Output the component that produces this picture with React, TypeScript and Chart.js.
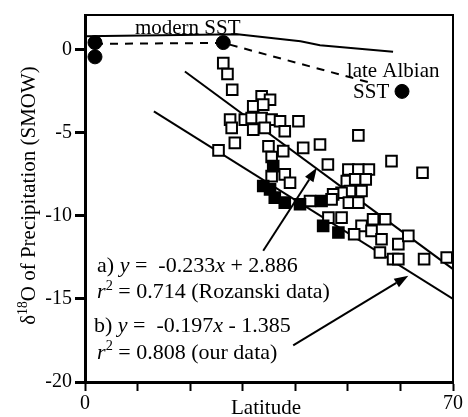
import { useEffect, useRef } from "react";
import { Chart, registerables } from "chart.js";

Chart.register(...registerables);

const FONT = '"Liberation Serif", "Times New Roman", serif';

// Rozanski data (open squares)
const rozanskiLat = [
  26.3, 27.1, 28.0, 33.6, 35.2, 32.0, 33.9, 27.6, 27.9, 30.4, 31.7, 33.6, 35.5, 37.1, 38.0, 40.6, 32.0, 34.2,
  28.5, 25.4, 34.9, 37.7, 41.5, 44.7, 35.5, 46.2, 52.0, 58.3, 64.2, 35.5, 38.0, 39.0, 42.8,
  50.1, 52.0, 54.0, 49.8, 51.4, 53.4, 52.6, 50.4, 48.8, 47.2, 46.9, 50.2, 52.0,
  48.8, 46.3, 54.8, 57.1, 52.6, 54.5, 51.2, 56.4, 59.6, 61.5, 56.1, 58.6, 59.6, 64.5, 68.8,
];
const rozanskiO18 = [
  -0.8, -1.45, -2.4, -2.8, -3.0, -3.4, -3.3, -4.2, -4.7, -4.2, -4.1, -4.1, -4.2, -4.3, -4.9, -4.3, -4.8, -4.7,
  -5.6, -6.05, -5.8, -6.1, -5.9, -5.7, -6.45, -6.9, -5.15, -6.7, -7.4, -7.6, -7.5, -8.0, -9.1,
  -7.2, -7.2, -7.2, -7.9, -7.8, -7.8, -8.5, -8.5, -8.6, -8.7, -9.0, -9.2, -9.2,
  -10.1, -10.1, -10.2, -10.2, -10.6, -10.9, -11.1, -11.4, -11.7, -11.2, -12.2, -12.6, -12.6, -12.6, -12.5,
];

// our data (filled squares)
const ourLat = [35.8, 33.9, 35.2, 36.1, 38.0, 40.9, 45.0, 45.3, 48.2];
const ourO18 = [-7.0, -8.2, -8.4, -8.9, -9.2, -9.3, -9.1, -10.6, -11.0];

// SST points (filled circles)
const sstLat = [1.9, 1.9, 26.3, 60.3];
const sstO18 = [0.44, -0.42, 0.44, -2.5];

const modernLat = [0, 29, 41, 44.7, 58.6];
const modernO18 = [0.82, 0.94, 0.52, 0.28, -0.12];

const albianLat = [1.9, 26.3, 54.5];
const albianO18 = [0.36, 0.42, -2.0];

// regression lines a) and b)
const fitALat = [19, 70];
const fitAO18 = [-1.3, -13.2];
const fitBLat = [13.1, 70];
const fitBO18 = [-3.7, -15.0];

// arrows: [tailLat, tailO18, headLat, headO18]
const arrowA = [33.9, -12.1, 44.1, -7.1];
const arrowB = [39.6, -17.8, 61.5, -13.6];

const xTicks = [0, 10, 20, 30, 40, 50, 60, 70];
const xTickLabels = ["0", "", "", "", "", "", "", "70"];
const yTicks = [-20, -15, -10, -5, 0];
const yTickLabels = ["-20", "-15", "-10", "-5", "0"];

const pts = (xs: number[], ys: number[]) => xs.map((x, i) => ({ x, y: ys[i] }));

type Run = { t: string; italic?: boolean; sup?: boolean };

function runsWidth(ctx: CanvasRenderingContext2D, runs: Run[], size: number) {
  let w = 0;
  for (const r of runs) {
    const fs = r.sup ? size * 0.65 : size;
    ctx.font = `${r.italic ? "italic " : ""}${fs}px ${FONT}`;
    w += ctx.measureText(r.t).width;
  }
  return w;
}

function drawRuns(ctx: CanvasRenderingContext2D, runs: Run[], x: number, y: number, size: number) {
  let cx = x;
  for (const r of runs) {
    const fs = r.sup ? size * 0.65 : size;
    ctx.font = `${r.italic ? "italic " : ""}${fs}px ${FONT}`;
    ctx.fillText(r.t, cx, r.sup ? y - size * 0.4 : y);
    cx += ctx.measureText(r.t).width;
  }
}

// [lat, o18 baseline, font size, runs]
const notes: [number, number, number, Run[]][] = [
  [9.5, 0.98, 21, [{ t: "modern SST" }]],
  [49.8, -1.62, 21, [{ t: "late Albian" }]],
  [51.0, -2.87, 21, [{ t: "SST" }]],
  [2.3, -13.4, 22, [{ t: "a) " }, { t: "y", italic: true }, { t: " =  -0.233" }, { t: "x", italic: true }, { t: " + 2.886" }]],
  [2.3, -14.97, 22, [{ t: "r", italic: true }, { t: "2", sup: true }, { t: " = 0.714 (Rozanski data)" }]],
  [1.7, -17.0, 22, [{ t: "b) " }, { t: "y", italic: true }, { t: " =  -0.197" }, { t: "x", italic: true }, { t: " - 1.385" }]],
  [2.3, -18.62, 22, [{ t: "r", italic: true }, { t: "2", sup: true }, { t: " = 0.808 (our data)" }]],
];

const annotate = {
  id: "annotate",
  afterDatasetsDraw(chart: Chart) {
    const { ctx, chartArea } = chart;
    const xs = chart.scales.x;
    const ys = chart.scales.y;
    ctx.save();
    // frame top & right
    ctx.strokeStyle = "#000";
    ctx.lineWidth = 2;
    ctx.beginPath();
    ctx.moveTo(chartArea.left, chartArea.top);
    ctx.lineTo(chartArea.right, chartArea.top);
    ctx.lineTo(chartArea.right, chartArea.bottom);
    ctx.stroke();

    // arrows
    for (const a of [arrowA, arrowB]) {
      const x1 = xs.getPixelForValue(a[0]);
      const y1 = ys.getPixelForValue(a[1]);
      const x2 = xs.getPixelForValue(a[2]);
      const y2 = ys.getPixelForValue(a[3]);
      const ang = Math.atan2(y2 - y1, x2 - x1);
      const len = 14;
      const hw = 5;
      const bx = x2 - len * Math.cos(ang);
      const by = y2 - len * Math.sin(ang);
      ctx.beginPath();
      ctx.moveTo(x1, y1);
      ctx.lineTo(bx, by);
      ctx.stroke();
      ctx.beginPath();
      ctx.moveTo(x2, y2);
      ctx.lineTo(bx + hw * Math.sin(ang), by - hw * Math.cos(ang));
      ctx.lineTo(bx - hw * Math.sin(ang), by + hw * Math.cos(ang));
      ctx.closePath();
      ctx.fillStyle = "#000";
      ctx.fill();
    }

    // text notes
    ctx.fillStyle = "#000";
    ctx.textBaseline = "alphabetic";
    ctx.textAlign = "left";
    for (const [lat, o, size, runs] of notes) {
      drawRuns(ctx, runs, xs.getPixelForValue(lat), ys.getPixelForValue(o), size);
    }

    // axis titles
    const xTitle: Run[] = [{ t: "Latitude" }];
    const xw = runsWidth(ctx, xTitle, 21);
    drawRuns(ctx, xTitle, (chartArea.left + chartArea.right) / 2 - 3 - xw / 2, 414, 21);

    const yTitle: Run[] = [{ t: "δ" }, { t: "18", sup: true }, { t: "O of Precipitation (SMOW)" }];
    const yw = runsWidth(ctx, yTitle, 21);
    ctx.translate(35, (chartArea.top + chartArea.bottom) / 2 - 3);
    ctx.rotate(-Math.PI / 2);
    drawRuns(ctx, yTitle, -yw / 2, 0, 21);
    ctx.restore();
  },
};

export default function App() {
  const canvasRef = useRef<HTMLCanvasElement>(null);
  const chartRef = useRef<Chart | null>(null);

  useEffect(() => {
    document.body.style.margin = "0";
    if (!canvasRef.current) return;
    if (chartRef.current) chartRef.current.destroy();

    const tickFont = { family: FONT, size: 20 };

    chartRef.current = new Chart(canvasRef.current, {
      type: "scatter",
      data: {
        datasets: [
          {
            label: "SST",
            data: pts(sstLat, sstO18),
            pointStyle: "circle",
            pointRadius: 7,
            backgroundColor: "#000",
            borderColor: "#000",
            order: 0,
          },
          {
            label: "our data",
            data: pts(ourLat, ourO18),
            pointStyle: "rect",
            pointRadius: 7.5,
            backgroundColor: "#000",
            borderColor: "#000",
            borderWidth: 2,
            order: 1,
          },
          {
            label: "Rozanski data",
            data: pts(rozanskiLat, rozanskiO18),
            pointStyle: "rect",
            pointRadius: 7.5,
            backgroundColor: "#fff",
            borderColor: "#000",
            borderWidth: 2,
            order: 2,
          },
          {
            label: "fit a",
            data: pts(fitALat, fitAO18),
            showLine: true,
            pointRadius: 0,
            borderColor: "#000",
            borderWidth: 2,
            order: 3,
          },
          {
            label: "fit b",
            data: pts(fitBLat, fitBO18),
            showLine: true,
            pointRadius: 0,
            borderColor: "#000",
            borderWidth: 2,
            order: 3,
          },
          {
            label: "modern SST",
            data: pts(modernLat, modernO18),
            showLine: true,
            pointRadius: 0,
            borderColor: "#000",
            borderWidth: 2,
            order: 4,
          },
          {
            label: "late Albian SST",
            data: pts(albianLat, albianO18),
            showLine: true,
            pointRadius: 0,
            borderColor: "#000",
            borderWidth: 2,
            borderDash: [8, 7],
            order: 4,
          },
        ],
      },
      options: {
        animation: false,
        responsive: true,
        maintainAspectRatio: false,
        layout: { padding: { top: 13, right: 15, left: 0, bottom: 0 } },
        plugins: { legend: { display: false }, tooltip: { enabled: false } },
        scales: {
          x: {
            type: "linear",
            min: 0,
            max: 70,
            afterBuildTicks: (s: any) => {
              s.ticks = xTicks.map((v) => ({ value: v }));
            },
            afterFit: (s: any) => {
              s.height = 35;
            },
            ticks: {
              autoSkip: false,
              maxRotation: 0,
              color: "#000",
              font: tickFont,
              padding: 1,
              callback: (_v: any, i: number) => xTickLabels[i],
            },
            grid: { drawOnChartArea: false, tickLength: 9, tickWidth: 2, tickColor: "#000" },
            border: { color: "#000", width: 3 },
          },
          y: {
            type: "linear",
            min: -20,
            max: 2.1,
            afterBuildTicks: (s: any) => {
              s.ticks = yTicks.map((v) => ({ value: v }));
            },
            afterFit: (s: any) => {
              s.width = 85;
            },
            ticks: {
              color: "#000",
              font: tickFont,
              padding: 3,
              callback: (_v: any, i: number) => yTickLabels[i],
            },
            grid: { drawOnChartArea: false, tickLength: 10, tickWidth: 3, tickColor: "#000" },
            border: { color: "#000", width: 3 },
          },
        },
      },
      plugins: [annotate],
    });

    return () => {
      if (chartRef.current) {
        chartRef.current.destroy();
        chartRef.current = null;
      }
    };
  }, []);

  return (
    <div style={{ width: 468, height: 417, background: "#fff" }}>
      <canvas ref={canvasRef}></canvas>
    </div>
  );
}
